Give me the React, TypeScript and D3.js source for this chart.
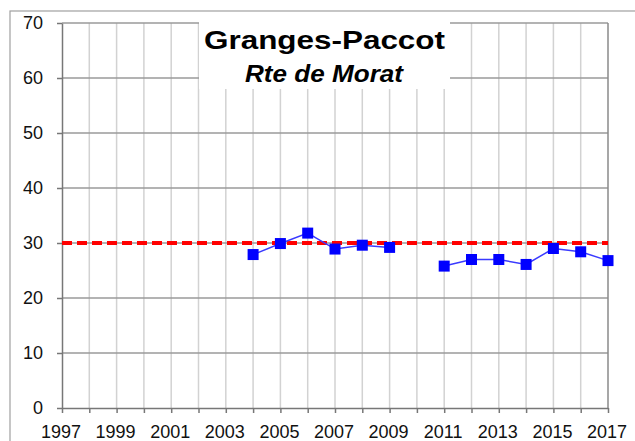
import * as d3 from "d3";
import React from "react";

const years = [2004, 2005, 2006, 2007, 2008, 2009, 2010, 2011, 2012, 2013, 2014, 2015, 2016, 2017];
const values: (number | null)[] = [27.9, 29.9, 31.8, 28.9, 29.6, 29.2, null, 25.8, 27.0, 27.0, 26.1, 29.0, 28.4, 26.8];
const limitValue = 30;
const yTicks = [0, 10, 20, 30, 40, 50, 60, 70];
const xLabels = [1997, 1999, 2001, 2003, 2005, 2007, 2009, 2011, 2013, 2015, 2017];
const title = "Granges-Paccot";
const subtitle = "Rte de Morat";

function App() {
  const svgRef = React.useRef<SVGSVGElement>(null);

  React.useEffect(() => {
    const width = 635;
    const height = 441;
    const left = 62;
    const right = 608;
    const top = 23;
    const bottom = 408;
    const font = "'Liberation Sans', Arial, sans-serif";

    const x = d3.scaleLinear().domain([1997, 2017]).range([left, right]);
    const y = d3.scaleLinear().domain([0, 70]).range([bottom, top]);

    const svg = d3.select(svgRef.current).attr("width", width).attr("height", height);
    svg.selectAll("*").remove();

    svg.append("rect").attr("width", width).attr("height", height).attr("fill", "#fff");

    // outer chart frame (cut by the window on the right and bottom)
    svg
      .append("rect")
      .attr("x", 10)
      .attr("y", 11)
      .attr("width", 700)
      .attr("height", 500)
      .attr("fill", "none")
      .attr("stroke", "#a0a0a0")
      .attr("stroke-width", 1.2);

    // vertical grid, one per year
    svg
      .append("g")
      .selectAll("line")
      .data(d3.range(1998, 2017))
      .join("line")
      .attr("x1", (d) => x(d))
      .attr("x2", (d) => x(d))
      .attr("y1", top)
      .attr("y2", bottom)
      .attr("stroke", "#d2d2d2")
      .attr("stroke-width", 1.5);

    // horizontal grid
    svg
      .append("g")
      .selectAll("line")
      .data(yTicks.filter((d) => d > 0))
      .join("line")
      .attr("x1", left)
      .attr("x2", right)
      .attr("y1", (d) => y(d))
      .attr("y2", (d) => y(d))
      .attr("stroke", "#9a9a9a")
      .attr("stroke-width", 1.5);

    // right border
    svg
      .append("line")
      .attr("x1", right)
      .attr("x2", right)
      .attr("y1", top)
      .attr("y2", bottom)
      .attr("stroke", "#8a8a8a")
      .attr("stroke-width", 1.5);

    // y axis
    const yAxis = svg
      .append("g")
      .attr("transform", `translate(${left},0)`)
      .call(d3.axisLeft(y).tickValues(yTicks).tickSize(5).tickPadding(14).tickSizeOuter(0));
    yAxis.select(".domain").attr("stroke", "#777").attr("stroke-width", 1.5);
    yAxis.selectAll(".tick line").attr("stroke", "#777").attr("stroke-width", 1.5);
    yAxis
      .selectAll(".tick text")
      .attr("font-family", font)
      .attr("font-size", 18)
      .attr("fill", "#111");

    // x axis
    const xAxis = svg
      .append("g")
      .attr("transform", `translate(0,${bottom})`)
      .call(d3.axisBottom(x).tickValues(d3.range(1997, 2018)).tickSize(5).tickSizeOuter(0).tickFormat(() => ""));
    xAxis.select(".domain").attr("stroke", "#777").attr("stroke-width", 1.5);
    xAxis.selectAll(".tick line").attr("stroke", "#777").attr("stroke-width", 1.5);
    svg
      .append("g")
      .selectAll("text")
      .data(xLabels)
      .join("text")
      .attr("x", (d) => x(d) - 1)
      .attr("y", 437.5)
      .attr("text-anchor", "middle")
      .attr("font-family", font)
      .attr("font-size", 18)
      .attr("fill", "#111")
      .text((d) => d);

    // limit line
    svg
      .append("line")
      .attr("x1", left)
      .attr("x2", right)
      .attr("y1", y(limitValue))
      .attr("y2", y(limitValue))
      .attr("stroke", "#ff0000")
      .attr("stroke-width", 4)
      .attr("stroke-dasharray", "10,5");

    // series
    const pts = years.map((yr, i) => ({ yr, v: values[i] }));
    const line = d3
      .line<{ yr: number; v: number | null }>()
      .defined((d) => d.v !== null)
      .x((d) => x(d.yr))
      .y((d) => y(d.v as number));
    svg
      .append("path")
      .attr("d", line(pts))
      .attr("fill", "none")
      .attr("stroke", "#3a3aff")
      .attr("stroke-width", 1.5);
    svg
      .append("g")
      .selectAll("rect")
      .data(pts.filter((d) => d.v !== null))
      .join("rect")
      .attr("x", (d) => x(d.yr) - 5.5)
      .attr("y", (d) => y(d.v as number) - 5.5)
      .attr("width", 11)
      .attr("height", 11)
      .attr("fill", "#0000ff");

    // title box
    svg.append("rect").attr("x", 199).attr("y", 12).attr("width", 251).attr("height", 77).attr("fill", "#fff");
    svg
      .append("text")
      .attr("x", 204)
      .attr("y", 48.5)
      .attr("font-family", font)
      .attr("font-weight", "bold")
      .attr("font-size", 26)
      .attr("textLength", 241)
      .attr("lengthAdjust", "spacingAndGlyphs")
      .attr("fill", "#000")
      .text(title);
    svg
      .append("text")
      .attr("x", 245)
      .attr("y", 81.5)
      .attr("font-family", font)
      .attr("font-weight", "bold")
      .attr("font-style", "italic")
      .attr("font-size", 23)
      .attr("textLength", 158)
      .attr("lengthAdjust", "spacingAndGlyphs")
      .attr("fill", "#000")
      .text(subtitle);
  }, []);

  return <svg ref={svgRef} style={{ position: "absolute", left: 0, top: 0 }} />;
}

export default App;
